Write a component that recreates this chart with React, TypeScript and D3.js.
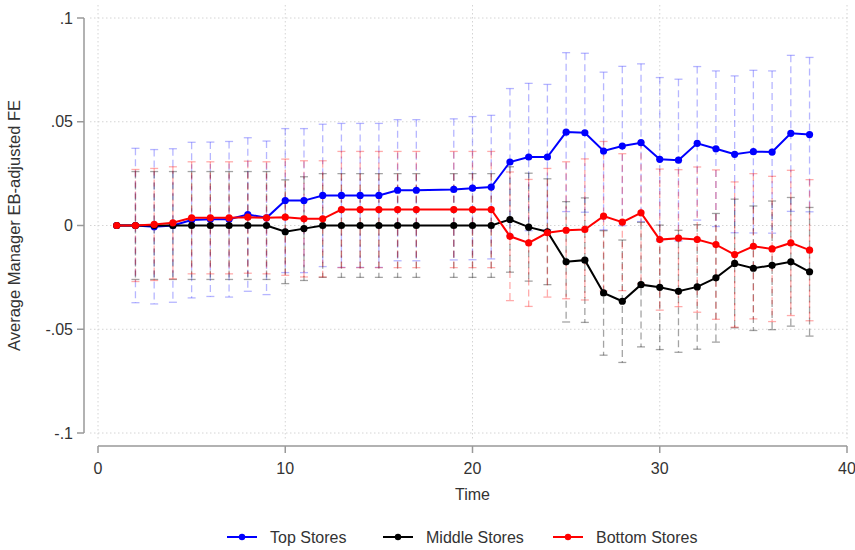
import * as d3 from "d3";
import React from "react";

// time periods (t = 18 is missing in the source)
const times = [1, 2, 3, 4, 5, 6, 7, 8, 9, 10, 11, 12, 13, 14, 15, 16, 17, 19, 20, 21, 22, 23, 24, 25, 26, 27, 28, 29, 30, 31, 32, 33, 34, 35, 36, 37, 38];

const topEst = [0, 0, -0.0006, 0, 0.0026, 0.003, 0.003, 0.0053, 0.0037, 0.012, 0.012, 0.0145, 0.0145, 0.0145, 0.0145, 0.017, 0.017, 0.0174, 0.018, 0.0185, 0.0306, 0.033, 0.033, 0.045, 0.0447, 0.0359, 0.0383, 0.0399, 0.0319, 0.0315, 0.0396, 0.037, 0.0343, 0.0356, 0.0354, 0.0444, 0.0438];
const topHw = [0, 0.0372, 0.0372, 0.037, 0.0375, 0.0372, 0.0375, 0.037, 0.037, 0.0347, 0.0347, 0.0343, 0.0347, 0.0347, 0.0347, 0.034, 0.034, 0.034, 0.0345, 0.0346, 0.0354, 0.0355, 0.035, 0.0383, 0.0383, 0.038, 0.0384, 0.038, 0.0394, 0.039, 0.037, 0.0375, 0.0378, 0.0392, 0.0391, 0.0376, 0.0372];

const midEst = [0, 0, 0, 0, 0, 0, 0, 0, 0, -0.003, -0.0015, 0, 0, 0, 0, 0, 0, 0, 0, 0, 0.0029, -0.0008, -0.003, -0.0175, -0.0167, -0.0325, -0.0365, -0.0285, -0.0298, -0.0317, -0.0296, -0.0252, -0.0183, -0.0206, -0.0192, -0.0175, -0.0223];
const midHw = [0, 0.026, 0.026, 0.026, 0.026, 0.026, 0.026, 0.026, 0.026, 0.025, 0.025, 0.025, 0.025, 0.025, 0.025, 0.025, 0.025, 0.025, 0.025, 0.025, 0.0254, 0.026, 0.0255, 0.029, 0.03, 0.03, 0.0295, 0.03, 0.03, 0.0294, 0.03, 0.031, 0.031, 0.03, 0.031, 0.031, 0.031];

const botEst = [0, 0, 0.0005, 0.0013, 0.0037, 0.0037, 0.0037, 0.004, 0.0037, 0.004, 0.0032, 0.0032, 0.0077, 0.0077, 0.0077, 0.0077, 0.0077, 0.0077, 0.0077, 0.0077, -0.0052, -0.0084, -0.0035, -0.0023, -0.0019, 0.0045, 0.0016, 0.0061, -0.0068, -0.0061, -0.0068, -0.0092, -0.014, -0.01, -0.0113, -0.0084, -0.0119];
const botHw = [0, 0.027, 0.027, 0.027, 0.027, 0.027, 0.027, 0.027, 0.027, 0.028, 0.028, 0.028, 0.028, 0.028, 0.028, 0.028, 0.028, 0.028, 0.028, 0.028, 0.031, 0.0306, 0.031, 0.033, 0.034, 0.036, 0.033, 0.034, 0.034, 0.033, 0.035, 0.036, 0.035, 0.035, 0.035, 0.035, 0.034];

const xTicks = [0, 10, 20, 30, 40];
const yTicks = [-0.1, -0.05, 0, 0.05, 0.1];

const series = [
    { name: "Top Stores", est: topEst, hw: topHw, color: "#0000ff", bar: "rgba(80,80,255,0.42)" },
    { name: "Middle Stores", est: midEst, hw: midHw, color: "#000000", bar: "rgba(0,0,0,0.36)" },
    { name: "Bottom Stores", est: botEst, hw: botHw, color: "#ff0000", bar: "rgba(255,0,0,0.33)" },
];

const fmt = (v: number) => {
    if (v === 0) return "0";
    return String(v).replace(/^(-?)0\./, "$1.");
};

export default function App() {
    const W = 855, H = 550;
    const x = d3.scaleLinear().domain([0, 40]).range([98, 847]);
    const y = d3.scaleLinear().domain([-0.1, 0.1]).range([433, 18]);
    const line = d3.line<number>().x((_, i) => x(times[i])).y(d => y(d));
    const font = "'Liberation Sans', Arial, sans-serif";
    const legendX = [227, 383, 553];

    return (
        <svg width={W} height={H} style={{ position: "absolute", left: 0, top: 0, background: "#fff" }} fontFamily={font}>
            {/* grid */}
            {yTicks.map(t => (
                <line key={"gy" + t} x1={90} x2={850} y1={y(t)} y2={y(t)} stroke="#d4d4d4" strokeWidth={1} strokeDasharray="1.5,2.5" />
            ))}
            {xTicks.map(t => (
                <line key={"gx" + t} x1={x(t)} x2={x(t)} y1={5} y2={440} stroke="#d4d4d4" strokeWidth={1} strokeDasharray="1.5,2.5" />
            ))}

            {/* error bars */}
            {series.map(s => (
                <g key={"eb" + s.name} stroke={s.bar} strokeWidth={1.3} fill="none">
                    {s.est.map((e, i) => {
                        if (!s.hw[i]) return null;
                        const cx = x(times[i]);
                        const y0 = y(e + s.hw[i]), y1 = y(e - s.hw[i]);
                        return (
                            <g key={i}>
                                <line x1={cx} x2={cx} y1={y0} y2={y1} strokeDasharray="7,4" />
                                <line x1={cx - 4} x2={cx + 4} y1={y0} y2={y0} />
                                <line x1={cx - 4} x2={cx + 4} y1={y1} y2={y1} />
                            </g>
                        );
                    })}
                </g>
            ))}

            {/* lines + markers */}
            {series.map(s => (
                <g key={"ln" + s.name}>
                    <path d={line(s.est)!} fill="none" stroke={s.color} strokeWidth={2} />
                    {s.est.map((e, i) => (
                        <circle key={i} cx={x(times[i])} cy={y(e)} r={3.6} fill={s.color} />
                    ))}
                </g>
            ))}

            {/* y axis */}
            <line x1={84} x2={84} y1={y(0.1)} y2={y(-0.1)} stroke="#999" strokeWidth={1.5} />
            {yTicks.map(t => (
                <g key={"yt" + t}>
                    <line x1={77} x2={84} y1={y(t)} y2={y(t)} stroke="#999" strokeWidth={1.5} />
                    <text x={73} y={y(t)} dy="0.35em" textAnchor="end" fontSize={16} fill="#333">{fmt(t)}</text>
                </g>
            ))}
            <text transform={`translate(20,${(y(0.1) + y(-0.1)) / 2}) rotate(-90)`} textAnchor="middle" fontSize={16.5} fill="#333">Average Manager EB-adjusted FE</text>

            {/* x axis */}
            <line x1={x(0)} x2={x(40)} y1={446} y2={446} stroke="#999" strokeWidth={1.5} />
            {xTicks.map(t => (
                <g key={"xt" + t}>
                    <line x1={x(t)} x2={x(t)} y1={446} y2={453} stroke="#999" strokeWidth={1.5} />
                    <text x={x(t)} y={468} dy="0.35em" textAnchor="middle" fontSize={16} fill="#333">{t}</text>
                </g>
            ))}
            <text x={(x(0) + x(40)) / 2} y={494} dy="0.35em" textAnchor="middle" fontSize={16} fill="#333">Time</text>

            {/* legend */}
            {series.map((s, i) => (
                <g key={"lg" + s.name} transform={`translate(${legendX[i]},537)`}>
                    <line x1={0} x2={30} y1={0} y2={0} stroke={s.color} strokeWidth={2} />
                    <circle cx={15} cy={0} r={3.2} fill={s.color} />
                    <text x={43} y={0} dy="0.35em" fontSize={16} fill="#333">{s.name}</text>
                </g>
            ))}
        </svg>
    );
}
